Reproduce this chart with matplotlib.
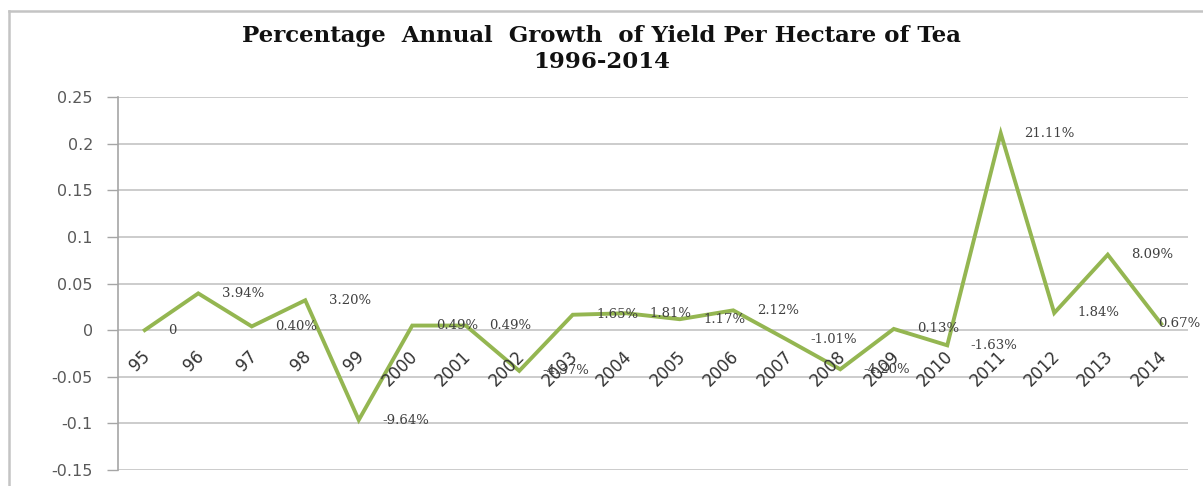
import matplotlib
matplotlib.use("Agg")
import matplotlib.pyplot as plt
from matplotlib.lines import Line2D

# Data: percentage annual growth of yield per hectare of tea
years = ["95", "96", "97", "98", "99", "2000", "2001", "2002", "2003", "2004",
         "2005", "2006", "2007", "2008", "2009", "2010", "2011", "2012", "2013", "2014"]
growth = [0.0, 0.0394, 0.0040, 0.0320, -0.0964, 0.0049, 0.0049, -0.0437, 0.0165, 0.0181,
          0.0117, 0.0212, -0.0101, -0.0420, 0.0013, -0.0163, 0.2111, 0.0184, 0.0809, 0.0067]
point_labels = ["0", "3.94%", "0.40%", "3.20%", "-9.64%", "0.49%", "0.49%", "-4.37%",
                "1.65%", "1.81%", "1.17%", "2.12%", "-1.01%", "-4.20%", "0.13%",
                "-1.63%", "21.11%", "1.84%", "8.09%", "0.67%"]
y_ticks = [-0.15, -0.1, -0.05, 0, 0.05, 0.1, 0.15, 0.2, 0.25]
y_tick_labels = ["-0.15", "-0.1", "-0.05", "0", "0.05", "0.1", "0.15", "0.2", "0.25"]

W, H = 1203, 486
fig = plt.figure(figsize=(W / 100, H / 100), dpi=100)
fig.patch.set_facecolor("white")

# outer chart frame (left and top edges visible)
fig.add_artist(Line2D([9 / W, 9 / W], [0, 1 - 11 / H], transform=fig.transFigure,
                      color="#c4c4c4", lw=1.8))
fig.add_artist(Line2D([9 / W, 1], [1 - 11 / H, 1 - 11 / H], transform=fig.transFigure,
                      color="#c4c4c4", lw=1.8))

left, right, top, bottom = 118, 1188, 97, 470
ax = fig.add_axes([left / W, 1 - bottom / H, (right - left) / W, (bottom - top) / H])
ax.set_facecolor("white")

x = list(range(len(years)))
ax.set_xlim(-0.5, len(years) - 0.5)
ax.set_ylim(-0.15, 0.25)

ax.set_yticks(y_ticks)
ax.set_yticklabels(y_tick_labels, fontsize=11.5, color="#595959", family="DejaVu Sans")
ax.tick_params(axis="y", direction="out", length=8, width=1, color="#a6a6a6", pad=10)
ax.set_xticks([])

for s in ["top", "right", "bottom"]:
    ax.spines[s].set_visible(False)
ax.spines["left"].set_color("#a6a6a6")
ax.spines["left"].set_linewidth(1.2)

# horizontal gridlines
for yv in y_ticks:
    ax.axhline(yv, color="#c8c8c8", lw=1.3, zorder=1)

ax.plot(x, growth, color="#94b651", lw=2.8, zorder=3, solid_joinstyle="miter")

# value labels to the right of each point (last one tucked in at the edge)
for i, (xi, yi, lab) in enumerate(zip(x, growth, point_labels)):
    dx = 17 if i < len(x) - 1 else -2
    ax.annotate(lab, (xi, yi), xytext=(dx, 0), textcoords="offset points",
                ha="left", va="center", fontsize=9.5, color="#404040",
                family="DejaVu Serif", zorder=4)

# category labels along the zero line, rotated
for xi, lab in zip(x, years):
    ax.annotate(lab, (xi, 0), xytext=(2, -17), textcoords="offset points",
                ha="right", va="center", rotation=45, rotation_mode="anchor",
                fontsize=12, color="#333333", family="DejaVu Sans", zorder=4)

fig.text(0.5, 1 - 36 / H, "Percentage  Annual  Growth  of Yield Per Hectare of Tea",
         ha="center", va="center", fontsize=16.5, fontweight="bold",
         family="DejaVu Serif", color="#111111")
fig.text(0.5, 1 - 62 / H, "1996-2014", ha="center", va="center", fontsize=16.5,
         fontweight="bold", family="DejaVu Serif", color="#111111")

fig.savefig("out.png", dpi=100, facecolor="white")
